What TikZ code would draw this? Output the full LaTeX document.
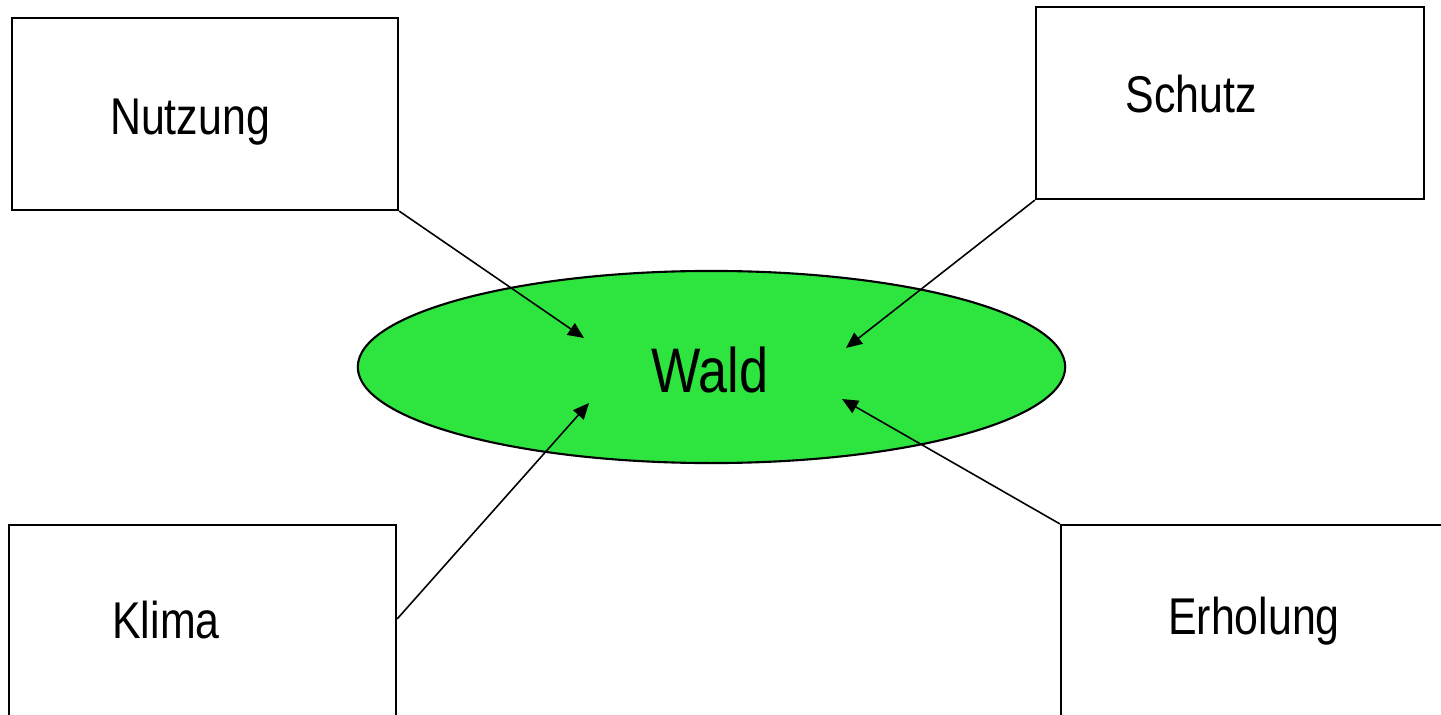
\documentclass[tikz,border=0pt]{standalone}
\usepackage{fontspec}
\setmainfont[FakeStretch=0.83]{Liberation Sans}
\usetikzlibrary{arrows.meta,shapes.geometric}
\definecolor{waldgreen}{RGB}{46,229,64}
\begin{document}
\begin{tikzpicture}[x=0.01cm,y=-0.01cm,
  box/.style={draw=black,line width=0.6pt,rectangle,inner sep=0pt},
  lbl/.style={anchor=base,inner sep=0pt,font=\fontsize{14.7}{17}\selectfont},
  arr/.style={line width=0.45pt,-{Triangle[length=0.16cm,width=0.14cm]}}]
\useasboundingbox (0,0) rectangle (1441,715);
% central ellipse
\node[ellipse,draw=black,line width=0.6pt,fill=waldgreen,inner sep=0pt,
      minimum width=7.07cm,minimum height=1.92cm] (wald) at (711.5,367) {};
\node[anchor=base,inner sep=0pt,font=\fontsize{17.9}{21}\selectfont] (waldtxt) at (710,392) {Wald};
% boxes
\node[box,minimum width=3.86cm,minimum height=1.92cm] (nutzung) at (205,114) {};
\node[box,minimum width=3.88cm,minimum height=1.92cm] (schutz) at (1230,103) {};
\node[box,minimum width=3.87cm,minimum height=2.10cm] (klima) at (202.5,630) {};
\node[box,minimum width=4.00cm,minimum height=2.10cm] (erholung) at (1261,630) {};
% labels
\node[lbl] (nutzungtxt) at (190,134) {Nutzung};
\node[lbl] (schutztxt) at (1191,113) {Schutz};
\node[lbl] (klimatxt) at (166,638) {Klima};
\node[lbl] (erholungtxt) at (1254,634) {Erholung};
% arrow tips
\coordinate (t1) at (584,338);
\coordinate (t2) at (846,348);
\coordinate (t3) at (589,403);
\coordinate (t4) at (842,399);
\draw[arr] (nutzung.south east) -- (t1);
\draw[arr] (schutz.south west) -- (t2);
\draw[arr] ([yshift=-0.95cm]klima.north east) -- (t3);
\draw[arr] (erholung.north west) -- (t4);
\end{tikzpicture}
\end{document}
